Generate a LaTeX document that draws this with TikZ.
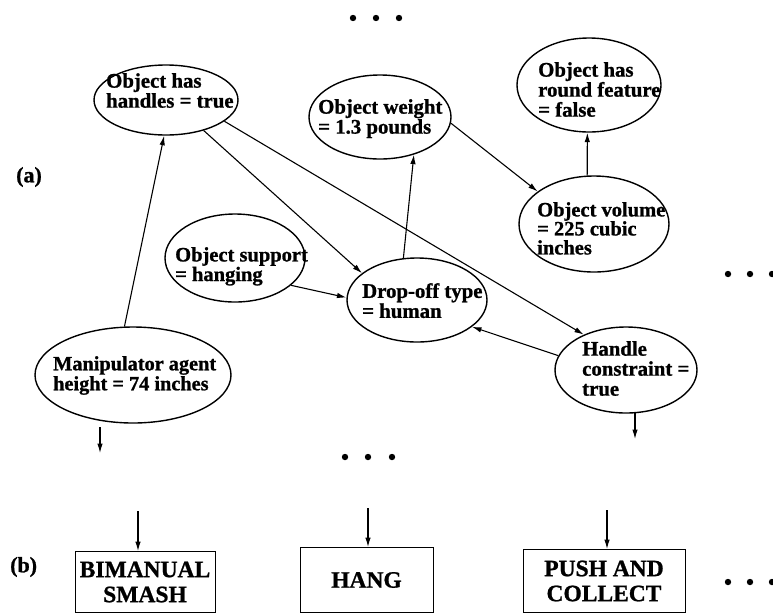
\documentclass[tikz,border=0pt]{standalone}
\usepackage{fontspec}
\setmainfont{Liberation Serif}
\newfontfamily\heavyserif[FakeBold=1]{Liberation Serif Bold}
\usetikzlibrary{shapes.geometric,arrows.meta}
\begin{document}
\begin{tikzpicture}[x=1pt,y=-1pt,
  ell/.style={draw,ellipse,line width=1.4pt,inner sep=0pt},
  etxt/.style={anchor=north west,inner sep=0pt,align=left,font=\heavyserif\fontsize{20.8}{20}\selectfont},
  abox/.style={draw,line width=0.9pt,inner sep=0pt,align=center,font=\heavyserif\fontsize{23.5}{25}\selectfont},
  lab/.style={anchor=west,inner sep=0pt,font=\heavyserif\fontsize{22}{22}\selectfont},
  conn/.style={line width=1.1pt,-{Latex[length=9.5pt,width=5.5pt]}},
  dot/.style={fill=black}
]
\useasboundingbox (0,0) rectangle (773,614);
% ellipses
\node[ell,minimum width=144pt,minimum height=70pt] (hdl) at (166,100) {};
\node[ell,minimum width=142pt,minimum height=84pt] (wgt) at (380,117) {};
\node[ell,minimum width=144pt,minimum height=94pt] (rnd) at (589,85) {};
\node[ell,minimum width=150pt,minimum height=96pt] (vol) at (594,224) {};
\node[ell,minimum width=140pt,minimum height=88pt] (sup) at (235,258) {};
\node[ell,minimum width=140pt,minimum height=84pt] (drp) at (417,300) {};
\node[ell,minimum width=196pt,minimum height=96pt] (man) at (133,375) {};
\node[ell,minimum width=142pt,minimum height=86pt] (hc) at (626,370) {};
% texts
\node[etxt] (hdlt) at (106,73) {Object has\\handles = true};
\node[etxt] (wgtt) at (318,99) {Object weight\\= 1.3 pounds};
\node[etxt] (rndt) at (538,62) {Object has\\round feature\\= false};
\node[etxt,font=\heavyserif\fontsize{20.5}{19}\selectfont] (volt) at (537,202) {Object volume\\= 225 cubic\\inches};
\node[etxt,font=\heavyserif\fontsize{20.5}{18}\selectfont] (supt) at (175,247) {Object support\\= hanging};
\node[etxt] (drpt) at (362,283) {Drop-off type\\= human};
\node[etxt,font=\heavyserif\fontsize{20.3}{20}\selectfont] (mant) at (53,356) {Manipulator agent\\height = 74 inches};
\node[etxt] (hct) at (582,341) {Handle\\constraint =\\true};
% boxes
\node[abox,minimum width=140pt,minimum height=61pt] (bim) at (145,582) {BIMANUAL\\SMASH};
\node[abox,minimum width=133pt,minimum height=65pt] (hang) at (366.5,580) {HANG};
\node[abox,minimum width=162pt,minimum height=63pt] (push) at (604,581) {PUSH AND\\COLLECT};
% labels
\node[lab] (la) at (16,177) {(a)};
\node[lab] (lb) at (10,567) {(b)};
% connectors
\draw[conn] (man.100) -- (hdl.-93);
\draw[conn] (hdl.-39) -- (drp.154);
\draw[conn] (hdl.-20) -- (hc.140);
\draw[conn] (sup.-26) -- (drp.178);
\draw[conn] (drp.108) -- (wgt.-48);
\draw[conn] (wgt.-5) -- (vol.150);
\draw[conn] (vol.98) -- (rnd.-92);
\draw[conn] (hc.168) -- (drp.-26);
% free arrows
\coordinate (m1) at (100,427);
\coordinate (m2) at (100,453);
\coordinate (h1) at (635,413);
\coordinate (h2) at (635,439);
\coordinate (b1) at (138,511);
\coordinate (b2) at (368,508);
\coordinate (b3) at (607,510);
\draw[conn] (m1) -- (m2);
\draw[conn] (h1) -- (h2);
\draw[conn] (b1) -- (b1 |- bim.north);
\draw[conn] (b2) -- (b2 |- hang.north);
\draw[conn] (b3) -- (b3 |- push.north);
% dots
\foreach \x in {353,376,399} \fill[dot] (\x,18) circle (3.2pt);
\foreach \x in {728,750,772} \fill[dot] (\x,274) circle (3.2pt);
\foreach \x in {345,368,392} \fill[dot] (\x,457) circle (3.2pt);
\foreach \x in {728,750,772} \fill[dot] (\x,582) circle (3.2pt);
\end{tikzpicture}
\end{document}
